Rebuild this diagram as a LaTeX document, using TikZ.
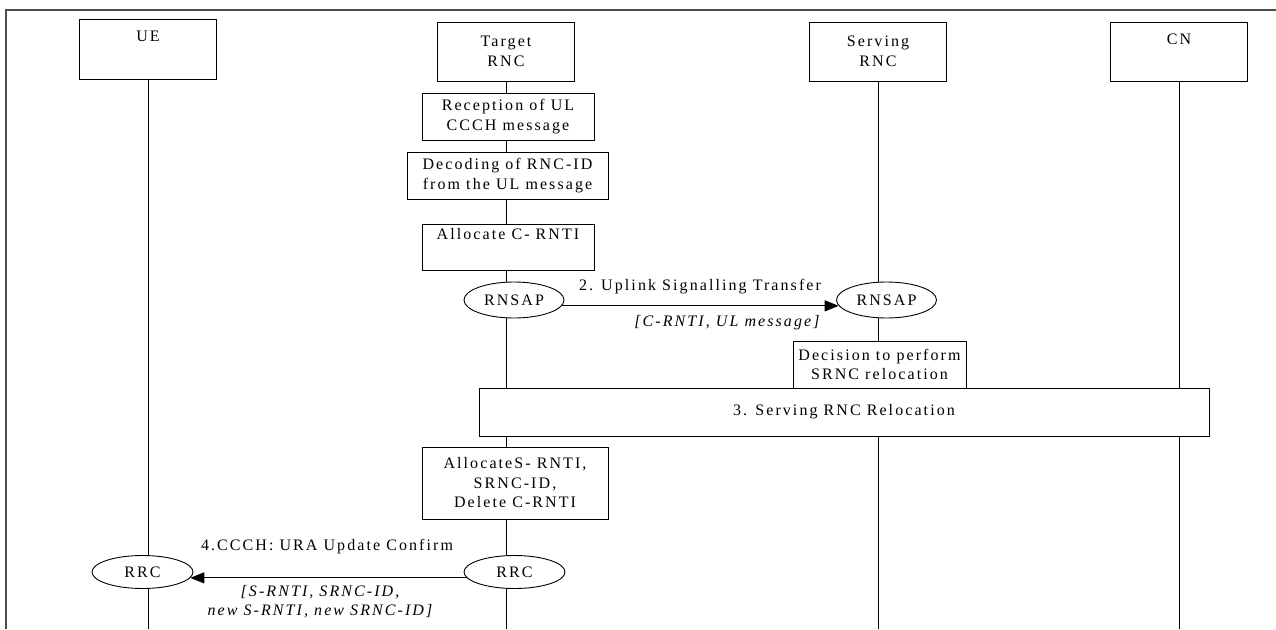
\documentclass[tikz,border=0pt]{standalone}
\usepackage{fontspec}
\setmainfont{Liberation Serif}[LetterSpace=13]
\usetikzlibrary{arrows.meta,shapes.geometric}
\newcommand{\lifeline}[1]{\draw (#1.south) -- (#1.south |- bottom);}

\begin{document}
\begin{tikzpicture}[x=1pt, y=-1pt, line width=0.9,
  font=\fontsize{16}{19.5}\selectfont,
  entity/.style={draw, fill=white, minimum width=137, minimum height=59, inner sep=0, align=center},
  action/.style={draw, fill=white, minimum height=47, inner sep=0, align=center},
  proto/.style={draw, fill=white, ellipse, minimum width=100, minimum height=36, inner sep=0},
  param/.style={font=\fontsize{16}{19.5}\selectfont\itshape, align=center},
  msg/.style={-{Triangle[length=14pt,width=11pt]}}]
\useasboundingbox (0,0) rectangle (1276,629);
\coordinate (bottom) at (0,629);
\draw[black!70, line width=1.4] (6,629) -- (6,10) -- (1276,10);
% entities
\node[entity, minimum height=60] (ue) at (148,49) {UE\\\strut};
\node[entity] (trnc) at (506,51.5) {Target\\RNC};
\node[entity] (srnc) at (878,51.5) {Serving\\RNC};
\node[entity] (cn) at (1179,51.5) {CN\\\strut};
\lifeline{ue}
\lifeline{trnc}
\lifeline{srnc}
\lifeline{cn}
% target RNC
\node[action, minimum width=172] (recep) at (508,116.5) {Reception of UL\\CCCH message};
\node[action, minimum width=201] (decode) at (507.5,175.5) {Decoding of RNC-ID\\from the UL message};
\node[action, minimum width=172, minimum height=46] (allocc) at (508,247) {Allocate C- RNTI\\\strut};
% 2. uplink signalling transfer
\node[proto] (rnsapt) at (514,300) {RNSAP};
\node[proto] (rnsaps) at (886.5,300) {RNSAP};
\draw[msg] (rnsapt.-7) -- (rnsaps.-173);
\node (upl) at (700,287) {2. Uplink Signalling Transfer};
\node[param] (uplpar) at (727,323) {[C-RNTI, UL message]};
\node[action, minimum width=173] (decide) at (879.5,364.5) {Decision to perform\\SRNC relocation};
% 3. relocation
\node[action, minimum width=730, minimum height=48] (reloc) at (844,412) {3. Serving RNC Relocation};
\node[action, minimum width=186, minimum height=72] (allocs) at (515,483) {AllocateS- RNTI,\\SRNC-ID,\\Delete C-RNTI};
% 4. URA update confirm
\node[proto, minimum width=101, minimum height=33] (rrct) at (514.5,572) {RRC};
\node[proto, minimum width=101, minimum height=33] (rrcu) at (142.5,572) {RRC};
\draw[msg] (rrct.-173) -- (rrcu.-7);
\node (ura) at (327,547) {4.CCCH: URA Update Confirm};
\node[param] (urapar) at (320,601.5) {[S-RNTI, SRNC-ID,\\new S-RNTI, new SRNC-ID]};
\end{tikzpicture}
\end{document}
